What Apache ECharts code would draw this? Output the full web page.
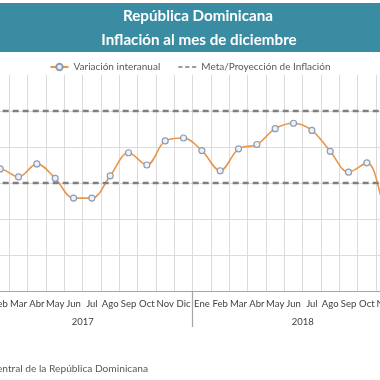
<!DOCTYPE html>
<html>
<head>
<meta charset="utf-8">
<script src="https://cdn.jsdelivr.net/npm/echarts@6/dist/echarts.min.js"></script>
<style>html,body{margin:0;padding:0;background:#fff}#c{width:380px;height:380px}</style>
</head>
<body>
<div id="c"></div>
<script>
var months = ['Ene','Feb','Mar','Abr','May','Jun','Jul','Ago','Sep','Oct','Nov','Dic',
              'Ene','Feb','Mar','Abr','May','Jun','Jul','Ago','Sep','Oct','Nov','Dic'];
var years = ['2017', '2018'];
var variacion = [3.30, 3.39, 3.17, 3.53, 3.13, 2.58, 2.58, 3.20, 3.84, 3.50, 4.17, 4.25,
                 3.90, 3.34, 3.95, 4.07, 4.51, 4.66, 4.46, 3.88, 3.30, 3.56, 2.25, 1.20];
var metaBands = [5, 3];
var yTicks = [0, 1, 2, 3, 4, 5, 6];

var FONT = 'Lato';
var chart = echarts.init(document.getElementById('c'), null, {renderer: 'canvas'});
chart.setOption({
  animation: false,
  textStyle: {fontFamily: FONT},
  graphic: [
    {type: 'rect', shape: {x: 0, y: 3, width: 380, height: 49}, style: {fill: '#3A8CA3'}, z: -1},
    {type: 'text', x: 198, y: 16, style: {text: 'República Dominicana', fill: '#ffffff', font: 'bold 15.2px ' + FONT, textAlign: 'center', textVerticalAlign: 'middle'}},
    {type: 'text', x: 199, y: 40.5, style: {text: 'Inflación al mes de diciembre', fill: '#ffffff', font: 'bold 15.2px ' + FONT, textAlign: 'center', textVerticalAlign: 'middle'}},
    {type: 'text', x: 148, y: 369, style: {text: 'Fuente: Banco Central de la República Dominicana', fill: '#595959', font: '10.2px ' + FONT, textAlign: 'right', textVerticalAlign: 'middle'}}
  ],
  legend: {
    top: 57, left: 'center', itemGap: 18, itemWidth: 18, itemHeight: 8,
    textStyle: {fontSize: 10, color: '#595959', fontFamily: FONT},
    data: [
      {name: 'Variación interanual'},
      {name: 'Meta/Proyección de Inflación', icon: 'path://M0,0h5v2h-5z M8,0h5v2h-5z M16,0h5v2h-5z',
       itemStyle: {color: '#7f7f7f'}}
    ]
  },
  grid: {left: -27.3, right: -32.7, top: 75, bottom: 89, containLabel: false, outerBoundsMode: 'none'},
  xAxis: [
    {
      type: 'category', data: months, position: 'bottom', boundaryGap: true,
      axisLine: {show: true, lineStyle: {color: '#a6a6a6', width: 1}},
      axisTick: {show: false},
      axisLabel: {interval: 0, color: '#404040', fontSize: 9.5, margin: 8, fontFamily: FONT},
      splitLine: {show: true, interval: 0, lineStyle: {color: '#dcdcdc', width: 1}}
    },
    {
      type: 'category', data: years, position: 'bottom', offset: 0, boundaryGap: true,
      axisLine: {show: false},
      axisTick: {show: true, length: 36, lineStyle: {color: '#a6a6a6', width: 1.2}},
      axisLabel: {interval: 0, color: '#404040', fontSize: 9.5, margin: 26, fontFamily: FONT},
      splitLine: {show: false}
    }
  ],
  yAxis: {
    type: 'value', min: yTicks[0], max: yTicks[yTicks.length - 1], interval: 1,
    axisLine: {show: false}, axisTick: {show: false}, axisLabel: {show: false},
    splitLine: {show: true, lineStyle: {color: ['rgba(0,0,0,0)', '#dcdcdc', '#dcdcdc', '#dcdcdc', '#dcdcdc', '#dcdcdc', 'rgba(0,0,0,0)'], width: 1}}
  },
  series: [
    {
      name: 'Variación interanual', type: 'line', xAxisIndex: 0, data: variacion,
      smooth: 0.35, symbol: 'circle', symbolSize: 6, showSymbol: true,
      lineStyle: {color: '#E8964A', width: 1.6},
      itemStyle: {color: '#eef1f5', borderColor: '#8E9DB4', borderWidth: 1.2},
      z: 3
    },
    {
      name: 'Meta/Proyección de Inflación', type: 'line', xAxisIndex: 0, data: [],
      symbol: 'none',
      lineStyle: {color: '#7f7f7f', width: 2.2, type: [6, 4]},
      itemStyle: {color: '#7f7f7f'},
      markLine: {
        silent: true, symbol: ['none', 'none'], label: {show: false},
        lineStyle: {color: '#7f7f7f', width: 2.4, type: [6, 4]},
        data: metaBands.map(function (v) { return {yAxis: v}; })
      },
      z: 2
    }
  ]
});
</script>
</body>
</html>
